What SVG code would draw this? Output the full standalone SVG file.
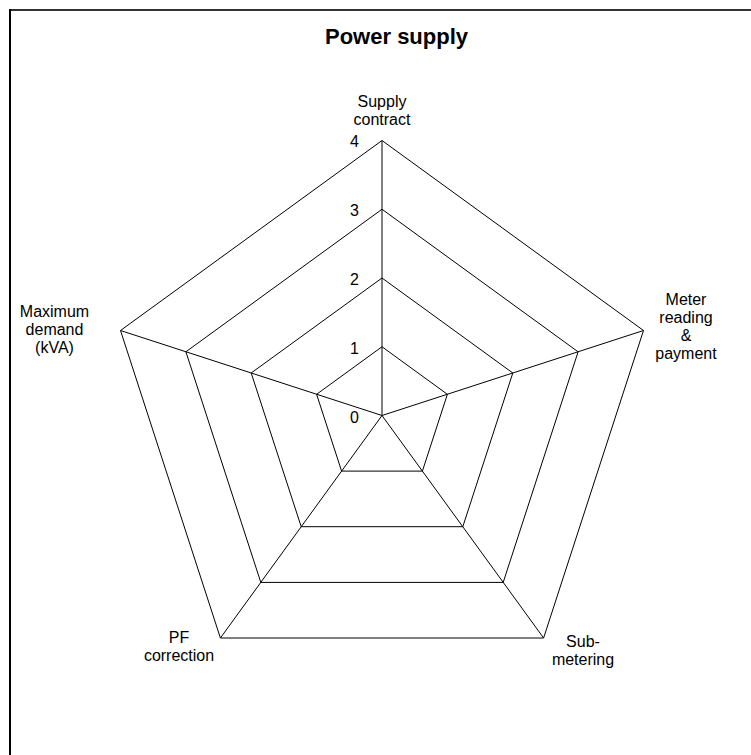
<svg xmlns="http://www.w3.org/2000/svg" width="751" height="755" viewBox="0 0 751 755">
  <style>
    .grid { fill: none; stroke: #000; stroke-width: 1; }
    .spoke { stroke: #000; stroke-width: 1; }
    .title { font-family: "Liberation Sans", Arial, sans-serif; font-size: 22px; font-weight: bold; fill: #000; }
    .axis { font-family: "Liberation Sans", Arial, sans-serif; font-size: 16px; text-anchor: middle; fill: #000; }
    .tick { font-family: "Liberation Sans", Arial, sans-serif; font-size: 16px; text-anchor: end; fill: #000; }
  </style>
  <rect x="0" y="0" width="751" height="755" fill="#fff"/>
  <!-- frame edges -->
  <line x1="9" y1="10" x2="751" y2="10" stroke="#333" stroke-width="2"/>
  <line x1="10" y1="9" x2="10" y2="755" stroke="#000" stroke-width="2"/>

  <text class="title" x="325" y="44">Power supply</text>

  <!-- rings: centre (382,415.5), radius 68.75 per step -->
  <g id="rings">
    <polygon class="grid" points="382,346.75 447.4,394.3 422.4,471.1 341.6,471.1 316.6,394.3"/>
    <polygon class="grid" points="382,278 512.8,373.0 462.8,526.7 301.2,526.7 251.2,373.0"/>
    <polygon class="grid" points="382,209.25 578.1,351.8 503.2,582.4 260.8,582.4 185.9,351.8"/>
    <polygon class="grid" points="382,140.5 643.5,330.5 543.6,638.0 220.4,638.0 120.5,330.5"/>
  </g>

  <g id="connectors">
    <line class="spoke" x1="382" y1="415.5" x2="382" y2="140.5"/>
    <line class="spoke" x1="382" y1="415.5" x2="643.5" y2="330.5"/>
    <line class="spoke" x1="382" y1="415.5" x2="543.6" y2="638.0"/>
    <line class="spoke" x1="382" y1="415.5" x2="220.4" y2="638.0"/>
    <line class="spoke" x1="382" y1="415.5" x2="120.5" y2="330.5"/>
  </g>

  <g id="ticks">
    <text class="tick" x="359" y="423">0</text>
    <text class="tick" x="359" y="354">1</text>
    <text class="tick" x="359" y="285">2</text>
    <text class="tick" x="359" y="216">3</text>
    <text class="tick" x="359" y="147">4</text>
  </g>

  <g id="axis-supply-contract">
    <text class="axis" x="382" y="107">Supply</text>
    <text class="axis" x="382" y="125">contract</text>
  </g>
  <g id="axis-meter-reading">
    <text class="axis" x="686" y="305">Meter</text>
    <text class="axis" x="686" y="323">reading</text>
    <text class="axis" x="686" y="341">&amp;</text>
    <text class="axis" x="686" y="359">payment</text>
  </g>
  <g id="axis-sub-metering">
    <text class="axis" x="583" y="647">Sub-</text>
    <text class="axis" x="583" y="665">metering</text>
  </g>
  <g id="axis-pf-correction">
    <text class="axis" x="179" y="643">PF</text>
    <text class="axis" x="179" y="661">correction</text>
  </g>
  <g id="axis-max-demand">
    <text class="axis" x="54.5" y="317">Maximum</text>
    <text class="axis" x="54.5" y="335">demand</text>
    <text class="axis" x="54.5" y="353">(kVA)</text>
  </g>
</svg>
